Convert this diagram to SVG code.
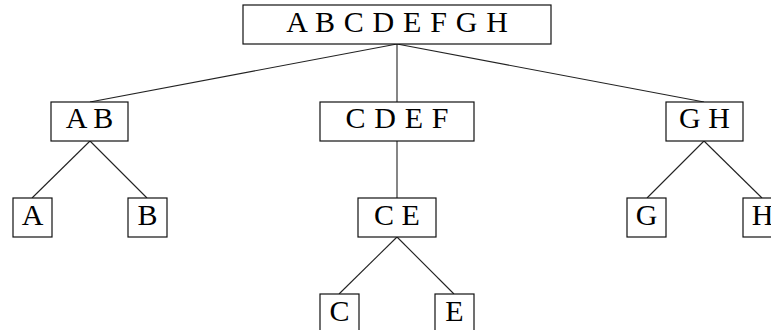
<svg xmlns="http://www.w3.org/2000/svg" width="771" height="330" viewBox="0 0 771 330">
  <style>
    .box { fill: #fff; stroke: #111; stroke-width: 1.2; }
    .lbl { font-family: "Liberation Serif", "Times New Roman", serif; font-size: 30px; fill: #000; text-anchor: middle; }
    .edge { stroke: #222; stroke-width: 1.1; fill: none; }
  </style>
  <rect width="771" height="330" fill="#fff"/>

  <!-- connectors -->
  <g id="edges">
    <line class="edge" x1="397" y1="44" x2="90" y2="102"/>
    <line class="edge" x1="397" y1="44" x2="397" y2="102"/>
    <line class="edge" x1="397" y1="44" x2="704" y2="102"/>
    <line class="edge" x1="90" y1="141" x2="32" y2="198"/>
    <line class="edge" x1="90" y1="141" x2="147" y2="198"/>
    <line class="edge" x1="397" y1="141" x2="397" y2="198"/>
    <line class="edge" x1="397" y1="237" x2="339" y2="294"/>
    <line class="edge" x1="397" y1="237" x2="454" y2="294"/>
    <line class="edge" x1="704" y1="141" x2="647" y2="198"/>
    <line class="edge" x1="704" y1="141" x2="762" y2="198"/>
  </g>

  <!-- nodes -->
  <g id="n-ABCDEFGH">
    <rect class="box" x="243" y="5" width="308" height="39"/>
    <text class="lbl" x="397" y="32" word-spacing="1.3" xml:space="preserve">A B C D E F G H</text>
  </g>
  <g id="n-AB">
    <rect class="box" x="51" y="102" width="77" height="39"/>
    <text class="lbl" x="89.5" y="128">A B</text>
  </g>
  <g id="n-CDEF">
    <rect class="box" x="320" y="102" width="154" height="39"/>
    <text class="lbl" x="397" y="128" word-spacing="1.3">C D E F</text>
  </g>
  <g id="n-GH">
    <rect class="box" x="666" y="102" width="77" height="39"/>
    <text class="lbl" x="704.5" y="128">G H</text>
  </g>
  <g id="n-A">
    <rect class="box" x="13" y="198" width="39" height="39"/>
    <text class="lbl" x="32.5" y="225">A</text>
  </g>
  <g id="n-B">
    <rect class="box" x="128" y="198" width="39" height="39"/>
    <text class="lbl" x="147.5" y="225">B</text>
  </g>
  <g id="n-CE">
    <rect class="box" x="358" y="198" width="78" height="39"/>
    <text class="lbl" x="397" y="225">C E</text>
  </g>
  <g id="n-G">
    <rect class="box" x="627" y="198" width="39" height="39"/>
    <text class="lbl" x="646.5" y="225">G</text>
  </g>
  <g id="n-H">
    <rect class="box" x="743" y="198" width="39" height="39"/>
    <text class="lbl" x="762.5" y="225">H</text>
  </g>
  <g id="n-C">
    <rect class="box" x="320" y="294" width="39" height="39"/>
    <text class="lbl" x="339.5" y="321">C</text>
  </g>
  <g id="n-E">
    <rect class="box" x="435" y="294" width="39" height="39"/>
    <text class="lbl" x="454.5" y="321">E</text>
  </g>
</svg>
